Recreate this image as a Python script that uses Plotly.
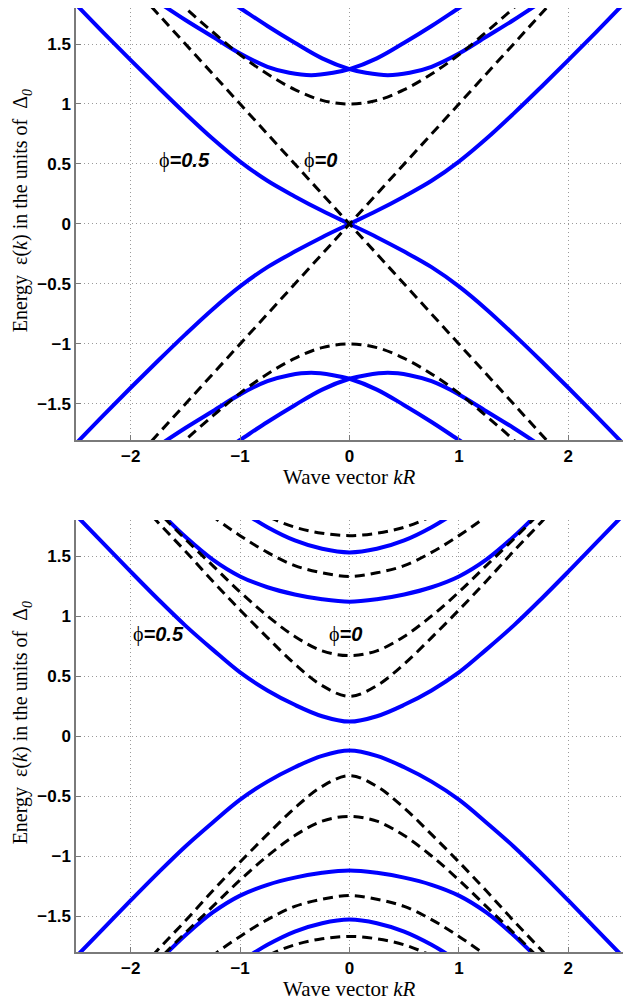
import plotly.graph_objects as go

# ---------------- data ----------------
# common wave-vector grids
k21 = [-2.5, -2.25, -2.0, -1.75, -1.5, -1.25, -1.0, -0.75, -0.5, -0.25, 0,
       0.25, 0.5, 0.75, 1.0, 1.25, 1.5, 1.75, 2.0, 2.25, 2.5]
k17 = [-2.0, -1.75, -1.5, -1.25, -1.0, -0.75, -0.5, -0.25, 0,
       0.25, 0.5, 0.75, 1.0, 1.25, 1.5, 1.75, 2.0]
k13 = [-1.5, -1.25, -1.0, -0.75, -0.5, -0.25, 0, 0.25, 0.5, 0.75, 1.0, 1.25, 1.5]
k11 = [-1.25, -1.0, -0.75, -0.5, -0.25, 0, 0.25, 0.5, 0.75, 1.0, 1.25]
k9 = [-1.0, -0.75, -0.5, -0.25, 0, 0.25, 0.5, 0.75, 1.0]

# ---- top panel, phi = 0.5 (blue) ----
top_armA = [-1.83, -1.595, -1.365, -1.14, -0.92, -0.71, -0.52, -0.36, -0.23, -0.11, 0,
            0.11, 0.23, 0.36, 0.52, 0.71, 0.92, 1.14, 1.365, 1.595, 1.83]
top_armB = [1.83, 1.595, 1.365, 1.14, 0.92, 0.71, 0.52, 0.36, 0.23, 0.11, 0,
            -0.11, -0.23, -0.36, -0.52, -0.71, -0.92, -1.14, -1.365, -1.595, -1.83]
kR = [-1.25, -1.0, -0.75, -0.5, -0.25, 0, 0.15, 0.35, 0.55, 0.75, 1.0, 1.25, 1.5, 1.75]
top_R_up = [1.95, 1.80, 1.65, 1.51, 1.38, 1.29, 1.26, 1.24, 1.26, 1.31, 1.42, 1.56, 1.70, 1.85]
top_R_dn = [-1.95, -1.80, -1.65, -1.51, -1.38, -1.29, -1.26, -1.24, -1.26, -1.31, -1.42, -1.56, -1.70, -1.85]
kL = [-1.75, -1.5, -1.25, -1.0, -0.75, -0.55, -0.35, -0.15, 0, 0.25, 0.5, 0.75, 1.0, 1.25]
top_L_up = [1.85, 1.70, 1.56, 1.42, 1.31, 1.26, 1.24, 1.26, 1.29, 1.38, 1.51, 1.65, 1.80, 1.95]
top_L_dn = [-1.85, -1.70, -1.56, -1.42, -1.31, -1.26, -1.24, -1.26, -1.29, -1.38, -1.51, -1.65, -1.80, -1.95]

# ---- top panel, phi = 0 (black dashed) ----
k_line = [-2.5, 2.5]
top_line_up = [-2.5, 2.5]
top_line_dn = [2.5, -2.5]
top_h1_up = [2.24, 2.02, 1.80, 1.60, 1.41, 1.25, 1.12, 1.03, 1.0,
             1.03, 1.12, 1.25, 1.41, 1.60, 1.80, 2.02, 2.24]
top_h1_dn = [-2.24, -2.02, -1.80, -1.60, -1.41, -1.25, -1.12, -1.03, -1.0,
             -1.03, -1.12, -1.25, -1.41, -1.60, -1.80, -2.02, -2.24]

# ---- bottom panel, phi = 0.5 (blue) ----
bot_b1_up = [1.84, 1.605, 1.37, 1.14, 0.92, 0.72, 0.53, 0.38, 0.26, 0.165, 0.12,
             0.165, 0.26, 0.38, 0.53, 0.72, 0.92, 1.14, 1.37, 1.605, 1.84]
bot_b1_dn = [-1.84, -1.605, -1.37, -1.14, -0.92, -0.72, -0.53, -0.38, -0.26, -0.165, -0.12,
             -0.165, -0.26, -0.38, -0.53, -0.72, -0.92, -1.14, -1.37, -1.605, -1.84]
bot_b2_up = [2.10, 1.88, 1.66, 1.47, 1.33, 1.24, 1.18, 1.14, 1.12,
             1.14, 1.18, 1.24, 1.33, 1.47, 1.66, 1.88, 2.10]
bot_b2_dn = [-2.10, -1.88, -1.66, -1.47, -1.33, -1.24, -1.18, -1.14, -1.12,
             -1.14, -1.18, -1.24, -1.33, -1.47, -1.66, -1.88, -2.10]
bot_b3_up = [2.03, 1.88, 1.74, 1.63, 1.56, 1.53, 1.56, 1.63, 1.74, 1.88, 2.03]
bot_b3_dn = [-2.03, -1.88, -1.74, -1.63, -1.56, -1.53, -1.56, -1.63, -1.74, -1.88, -2.03]

# ---- bottom panel, phi = 0 (black dashed) ----
bot_d1_up = [2.03, 1.78, 1.54, 1.29, 1.05, 0.82, 0.60, 0.42, 0.33,
             0.42, 0.60, 0.82, 1.05, 1.29, 1.54, 1.78, 2.03]
bot_d1_dn = [-2.03, -1.78, -1.54, -1.29, -1.05, -0.82, -0.60, -0.42, -0.33,
             -0.42, -0.60, -0.82, -1.05, -1.29, -1.54, -1.78, -2.03]
bot_d2_up = [2.11, 1.87, 1.64, 1.42, 1.20, 1.00, 0.83, 0.71, 0.67,
             0.71, 0.83, 1.00, 1.20, 1.42, 1.64, 1.87, 2.11]
bot_d2_dn = [-2.11, -1.87, -1.64, -1.42, -1.20, -1.00, -0.83, -0.71, -0.67,
             -0.71, -0.83, -1.00, -1.20, -1.42, -1.64, -1.87, -2.11]
bot_d3_up = [2.01, 1.83, 1.67, 1.53, 1.42, 1.36, 1.33, 1.36, 1.42, 1.53, 1.67, 1.83, 2.01]
bot_d3_dn = [-2.01, -1.83, -1.67, -1.53, -1.42, -1.36, -1.33, -1.36, -1.42, -1.53, -1.67, -1.83, -2.01]
bot_d4_up = [1.94, 1.83, 1.74, 1.69, 1.67, 1.69, 1.74, 1.83, 1.94]
bot_d4_dn = [-1.94, -1.83, -1.74, -1.69, -1.67, -1.69, -1.74, -1.83, -1.94]

x_ticks = [-2, -1, 0, 1, 2]
y_ticks = [-1.5, -1, -0.5, 0, 0.5, 1, 1.5]

# ---------------- figure ----------------
BLUE = "#0000ff"
fig = go.Figure()


def blue(x, y, ax):
    fig.add_trace(go.Scatter(x=x, y=y, mode="lines", xaxis="x" + ax, yaxis="y" + ax,
                             line=dict(color=BLUE, width=4, shape="spline", smoothing=1.0),
                             showlegend=False, hoverinfo="skip"))


def dashed(x, y, ax, spline=True):
    fig.add_trace(go.Scatter(x=x, y=y, mode="lines", xaxis="x" + ax, yaxis="y" + ax,
                             line=dict(color="black", width=3, dash="10px,6px",
                                       shape="spline" if spline else "linear", smoothing=1.0),
                             showlegend=False, hoverinfo="skip"))


# top panel (axes x / y)
blue(k21, top_armA, "")
blue(k21, top_armB, "")
blue(kR, top_R_up, "")
blue(kL, top_L_up, "")
blue(kR, top_R_dn, "")
blue(kL, top_L_dn, "")
dashed(k_line, top_line_up, "", spline=False)
dashed(k_line, top_line_dn, "", spline=False)
dashed(k17, top_h1_up, "")
dashed(k17, top_h1_dn, "")

# bottom panel (axes x2 / y2)
blue(k21, bot_b1_up, "2")
blue(k21, bot_b1_dn, "2")
blue(k17, bot_b2_up, "2")
blue(k17, bot_b2_dn, "2")
blue(k11, bot_b3_up, "2")
blue(k11, bot_b3_dn, "2")
dashed(k17, bot_d1_up, "2")
dashed(k17, bot_d1_dn, "2")
dashed(k17, bot_d2_up, "2")
dashed(k17, bot_d2_dn, "2")
dashed(k13, bot_d3_up, "2")
dashed(k13, bot_d3_dn, "2")
dashed(k9, bot_d4_up, "2")
dashed(k9, bot_d4_dn, "2")

tickfont = dict(family="Liberation Sans, Arial, sans-serif", size=17, color="black", weight="bold")
axis_common = dict(showline=True, linecolor="#7a7a7a", linewidth=1.5, mirror=False,
                   ticks="inside", ticklen=5, tickcolor="#7a7a7a", tickwidth=1,
                   showgrid=True, gridcolor="#9a9a9a", gridwidth=1, griddash="1px,3px",
                   zeroline=False, tickfont=tickfont)

xa = dict(axis_common, range=[-2.5, 2.5], tickvals=x_ticks, ticklabelstandoff=0)
ya = dict(axis_common, range=[-1.8, 1.8], tickvals=y_ticks, ticklabelstandoff=0)

# page has an 8px body margin: plot area spans page x 76..623, y 8..952
fig.update_layout(
    width=628, height=992,
    margin=dict(l=68, r=13, t=0, b=48),
    paper_bgcolor="white", plot_bgcolor="white",
    xaxis=dict(xa, domain=[0, 1], anchor="y"),
    yaxis=dict(ya, domain=[0.5424, 1.0], anchor="x"),
    xaxis2=dict(xa, domain=[0, 1], anchor="y2"),
    yaxis2=dict(ya, domain=[0.0, 0.4576], anchor="x2"),
)

serif_y = dict(family="Liberation Serif, Times New Roman, serif", size=20, color="black")
serif_x = dict(family="Liberation Serif, Times New Roman, serif", size=21, color="black")
ytitle = "Energy  \u03b5(<i>k</i>) in the units of  \u0394<sub><i>0</i></sub>"
xtitle = "Wave vector <i>kR</i>"
label_font = dict(family="Liberation Sans, Arial, sans-serif", size=20, color="black")
PHI = "<span style='font-family:Liberation Serif'>\u03d5</span>"

ann = [
    dict(text=ytitle, xref="paper", yref="paper", x=-0.099, y=0.7855, textangle=-90,
         showarrow=False, font=serif_y, xanchor="center", yanchor="middle"),
    dict(text=ytitle, xref="paper", yref="paper", x=-0.099, y=0.2431, textangle=-90,
         showarrow=False, font=serif_y, xanchor="center", yanchor="middle"),
    dict(text=xtitle, xref="paper", yref="paper", x=0.5, y=0.5032,
         showarrow=False, font=serif_x, xanchor="center", yanchor="middle"),
    dict(text=xtitle, xref="paper", yref="paper", x=0.5, y=-0.0392,
         showarrow=False, font=serif_x, xanchor="center", yanchor="middle"),
    dict(text=PHI + "<b><i>=0.5</i></b>", xref="x", yref="y", x=-1.76, y=0.53,
         showarrow=False, font=label_font, xanchor="left", yanchor="middle"),
    dict(text=PHI + "<b><i>=0</i></b>", xref="x", yref="y", x=-0.43, y=0.53,
         showarrow=False, font=label_font, xanchor="left", yanchor="middle"),
    dict(text=PHI + "<b><i>=0.5</i></b>", xref="x2", yref="y2", x=-2.0, y=0.85,
         showarrow=False, font=label_font, xanchor="left", yanchor="middle"),
    dict(text=PHI + "<b><i>=0</i></b>", xref="x2", yref="y2", x=-0.21, y=0.85,
         showarrow=False, font=label_font, xanchor="left", yanchor="middle"),
]
fig.update_layout(annotations=ann)

fig.write_html("out.html")
